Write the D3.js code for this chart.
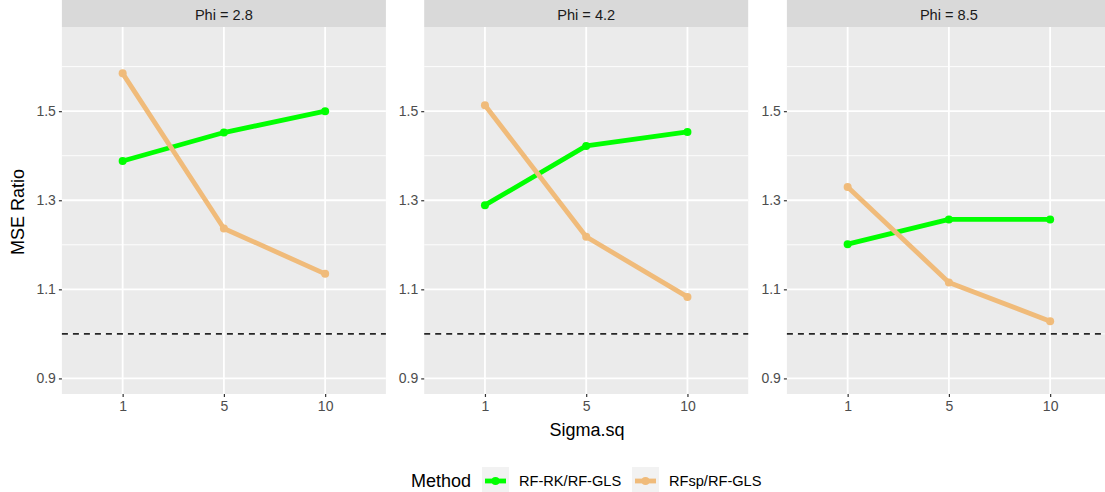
<!DOCTYPE html>
<html><head><meta charset="utf-8">
<script src="https://cdn.jsdelivr.net/npm/d3@7"></script>
<style>body{margin:0;background:#fff}svg{display:block;font-family:"Liberation Sans",Arial,sans-serif}</style>
</head><body><svg id="c" width="1105" height="492"></svg>
<script>
const panels = ["Phi = 2.8", "Phi = 4.2", "Phi = 8.5"];
const sigma = ["1", "5", "10"];
const methods = ["RF-RK/RF-GLS", "RFsp/RF-GLS"];
const colors = ["#00FF00", "#F0BB7A"];
const rfrk = [[1.388, 1.452, 1.500], [1.289, 1.422, 1.4535], [1.2015, 1.257, 1.257]];
const rfsp = [[1.585, 1.2367, 1.1348], [1.5135, 1.218, 1.083], [1.330, 1.1155, 1.0286]];
const yTicks = [0.9, 1.1, 1.3, 1.5];
const yMinor = [1.0, 1.2, 1.4, 1.6];
const refLine = 1.0;

const svg = d3.select("#c");
const panelLefts = [61.9, 424.2, 786.9];
const pw = 324, pTop = 27, pBottom = 394, stripH = 27;
const y = d3.scaleLinear().domain([0.865, 1.689]).range([pBottom, pTop]);
const FF = "Liberation Sans, Arial, sans-serif";

panels.forEach((p, i) => {
  const x0 = panelLefts[i];
  const x = d3.scalePoint().domain(sigma).range([x0, x0 + pw]).padding(0.6);
  const g = svg.append("g");
  g.append("rect").attr("x", x0).attr("y", 0).attr("width", pw).attr("height", stripH).attr("fill", "#D9D9D9");
  g.append("text").attr("x", x0 + pw / 2).attr("y", stripH / 2 + 1).attr("dy", "0.35em")
    .attr("text-anchor", "middle").attr("font-size", 14.6).attr("fill", "#1A1A1A").text(p);
  g.append("rect").attr("x", x0).attr("y", pTop).attr("width", pw).attr("height", pBottom - pTop).attr("fill", "#EBEBEB");
  yMinor.forEach(v => g.append("line").attr("x1", x0).attr("x2", x0 + pw).attr("y1", y(v)).attr("y2", y(v))
    .attr("stroke", "#fff").attr("stroke-width", 0.9));
  yTicks.forEach(v => g.append("line").attr("x1", x0).attr("x2", x0 + pw).attr("y1", y(v)).attr("y2", y(v))
    .attr("stroke", "#fff").attr("stroke-width", 1.8));
  sigma.forEach(s => g.append("line").attr("x1", x(s)).attr("x2", x(s)).attr("y1", pTop).attr("y2", pBottom)
    .attr("stroke", "#fff").attr("stroke-width", 1.8));
  g.append("line").attr("x1", x0).attr("x2", x0 + pw).attr("y1", y(refLine)).attr("y2", y(refLine))
    .attr("stroke", "#262626").attr("stroke-width", 1.6).attr("stroke-dasharray", "6,5");
  const ya = d3.axisLeft(y).tickValues(yTicks).tickFormat(d3.format(".1f")).tickSize(3).tickPadding(3);
  const yg = g.append("g").attr("transform", `translate(${x0},0)`).call(ya);
  yg.select(".domain").remove();
  yg.selectAll("line").attr("stroke", "#333").attr("stroke-width", 1.2);
  yg.selectAll("text").attr("font-size", 14).attr("fill", "#4D4D4D").attr("font-family", FF);
  const xa = d3.axisBottom(x).tickSize(3).tickPadding(4);
  const xg = g.append("g").attr("transform", `translate(0,${pBottom})`).call(xa);
  xg.select(".domain").remove();
  xg.selectAll("line").attr("stroke", "#333").attr("stroke-width", 1.2);
  xg.selectAll("text").attr("font-size", 14).attr("fill", "#4D4D4D").attr("font-family", FF);
  [rfrk[i], rfsp[i]].forEach((vals, k) => {
    const pts = vals.map((v, j) => [x(sigma[j]), y(v)]);
    g.append("path").attr("d", d3.line()(pts)).attr("fill", "none")
      .attr("stroke", colors[k]).attr("stroke-width", 4.8).attr("stroke-linejoin", "round");
    g.selectAll(null).data(pts).enter().append("circle")
      .attr("cx", d => d[0]).attr("cy", d => d[1]).attr("r", 4).attr("fill", colors[k]);
  });
});

svg.append("text").attr("x", 587).attr("y", 430).attr("dy", "0.35em").attr("text-anchor", "middle")
  .attr("font-size", 18).attr("fill", "#000").text("Sigma.sq");
svg.append("text").attr("transform", "translate(18,212) rotate(-90)").attr("dy", "0.35em")
  .attr("text-anchor", "middle").attr("font-size", 18).attr("fill", "#000").text("MSE Ratio");

const ly = 481;
svg.append("text").attr("x", 411).attr("y", ly).attr("dy", "0.35em").attr("font-size", 18).attr("fill", "#000").text("Method");
const keyX = [482, 632];
methods.forEach((m, k) => {
  svg.append("rect").attr("x", keyX[k]).attr("y", ly - 14).attr("width", 27).attr("height", 28).attr("fill", "#F2F2F2");
  svg.append("line").attr("x1", keyX[k] + 3).attr("x2", keyX[k] + 24).attr("y1", ly).attr("y2", ly)
    .attr("stroke", colors[k]).attr("stroke-width", 4.8);
  svg.append("circle").attr("cx", keyX[k] + 13.5).attr("cy", ly).attr("r", 4).attr("fill", colors[k]);
  svg.append("text").attr("x", keyX[k] + 37).attr("y", ly).attr("dy", "0.35em").attr("font-size", 14.6)
    .attr("fill", "#000").text(m);
});
</script></body></html>
